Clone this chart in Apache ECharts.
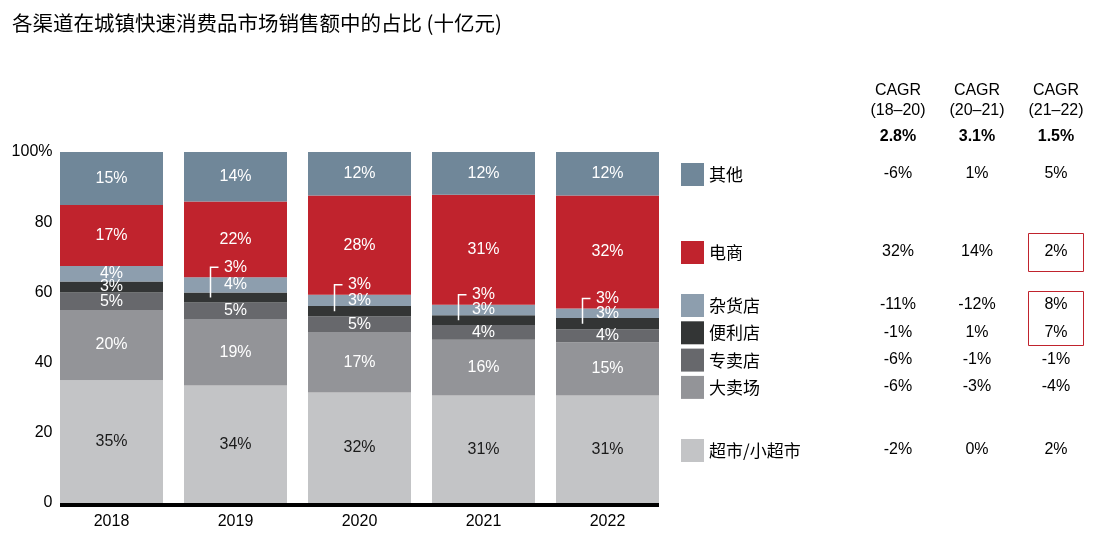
<!DOCTYPE html>
<html>
<head>
<meta charset="utf-8">
<script src="https://cdn.jsdelivr.net/npm/echarts@6/dist/echarts.min.js"></script>
<style>
html, body { margin: 0; padding: 0; background: #fff; }
#main { width: 1115px; height: 543px; }
</style>
</head>
<body>
<div id="main"></div>
<script>
var years = ["2018", "2019", "2020", "2021", "2022"];
var totals = ["1,309", "1,382", "1,383", "1,426", "1,447"];

// stacking order, bottom to top
var channels = ["超市/小超市", "大卖场", "专卖店", "便利店", "杂货店", "电商", "其他"];
var supermarket = [35.0, 33.5, 31.5, 30.6, 30.6];
var hypermarket = [20.0, 18.9, 17.2, 15.9, 15.2];
var specialty = [5.0, 4.7, 4.5, 4.2, 3.7];
var convenience = [3.1, 2.9, 2.9, 2.8, 3.2];
var grocery = [4.4, 4.3, 3.2, 3.0, 2.7];
var ecommerce = [17.4, 21.6, 28.3, 31.3, 32.2];
var others = [15.1, 14.1, 12.4, 12.2, 12.4];
var shares = [supermarket, hypermarket, specialty, convenience, grocery, ecommerce, others];
var colors = ["#c3c4c6", "#939498", "#67686c", "#333535", "#8d9eae", "#c0232d", "#708799"];

// right-hand table, top to bottom
var tableRows = ["其他", "电商", "杂货店", "便利店", "专卖店", "大卖场", "超市/小超市"];
var cagrHeads = ["(18–20)", "(20–21)", "(21–22)"];
var cagrTotal = ["2.8%", "3.1%", "1.5%"];
var cagr1820 = ["-6%", "32%", "-11%", "-1%", "-6%", "-6%", "-2%"];
var cagr2021 = ["1%", "14%", "-12%", "1%", "-1%", "-3%", "0%"];
var cagr2122 = ["5%", "2%", "8%", "7%", "-1%", "-4%", "2%"];

var latin = '"Liberation Sans", Arial, sans-serif';
var cjk = '"Noto Sans CJK SC", "Liberation Sans", sans-serif';
var barW = 103;

var chart = echarts.init(document.getElementById("main"));

var series = channels.map(function (name, k) {
    return {
        name: name,
        type: "bar",
        stack: "share",
        barWidth: barW,
        emphasis: { disabled: true },
        itemStyle: { color: colors[k] },
        label: {
            show: true,
            position: "inside",
            color: k === 0 ? "#1a1a1a" : "#fff",
            fontSize: 16,
            fontFamily: latin,
            formatter: function (p) { return Math.round(p.value) + "%"; }
        },
        data: shares[k].map(function (v, i) {
            // convenience-store labels after 2018 are drawn as callouts
            if (k === 3 && i > 0) return { value: v, label: { show: false } };
            return v;
        })
    };
});

// totals above the bars
series.push({
    type: "scatter",
    silent: true,
    symbolSize: 1,
    itemStyle: { opacity: 0 },
    label: {
        show: true,
        position: "top",
        distance: 8,
        color: "#000",
        fontSize: 16,
        fontFamily: latin,
        formatter: function (p) { return totals[p.dataIndex]; }
    },
    data: years.map(function () { return 100; })
});

function legendBlock(names, top) {
    return {
        data: names,
        left: 681,
        top: top,
        orient: "vertical",
        padding: 0,
        icon: "rect",
        itemWidth: 23,
        itemHeight: 23,
        itemGap: 4.3,
        selectedMode: false,
        textStyle: { fontSize: 17, color: "#000", fontFamily: cjk }
    };
}

chart.setOption({
    animation: false,
    title: {
        text: "各渠道在城镇快速消费品市场销售额中的占比 (十亿元)",
        left: 12,
        top: 13,
        padding: 0,
        textStyle: { fontSize: 20.5, fontWeight: "normal", color: "#000", fontFamily: cjk }
    },
    legend: [
        legendBlock(["其他"], 163),
        legendBlock(["电商"], 241),
        legendBlock(["杂货店", "便利店", "专卖店", "大卖场"], 294),
        legendBlock(["超市/小超市"], 439)
    ],
    grid: { left: 49.5, width: 620, top: 152, bottom: 40 },
    xAxis: {
        type: "category",
        data: years,
        axisLine: { show: false },
        axisTick: { show: false },
        axisLabel: { color: "#000", fontSize: 16, fontFamily: latin, margin: 11 }
    },
    yAxis: {
        type: "value",
        min: 0,
        max: 100,
        interval: 20,
        splitLine: { show: false },
        axisLine: { show: false },
        axisTick: { show: false },
        axisLabel: {
            color: "#000",
            fontSize: 16,
            fontFamily: latin,
            margin: -3,
            formatter: function (v) { return v === 100 ? "100%" : v; }
        }
    },
    series: series
});

function txt(text, x, y, opts) {
    opts = opts || {};
    return {
        type: "text",
        silent: true,
        z: 100,
        style: {
            text: text,
            x: x,
            y: y,
            align: opts.align || "center",
            verticalAlign: "middle",
            fill: opts.fill || "#000",
            fontSize: opts.size || 16,
            fontWeight: opts.weight || "normal",
            fontFamily: latin
        }
    };
}

function drawExtras() {
    var els = [];

    // baseline under the bars
    var p0 = chart.convertToPixel({ gridIndex: 0 }, [0, 0]);
    var p4 = chart.convertToPixel({ gridIndex: 0 }, [years.length - 1, 0]);
    els.push({
        type: "line",
        silent: true,
        z: 100,
        shape: { x1: p0[0] - barW / 2, y1: p0[1] + 2, x2: p4[0] + barW / 2, y2: p0[1] + 2 },
        style: { stroke: "#000", lineWidth: 4 }
    });

    // callout labels for the thin convenience-store segments
    for (var i = 1; i < years.length; i++) {
        var below = supermarket[i] + hypermarket[i] + specialty[i];
        var midConv = chart.convertToPixel({ gridIndex: 0 }, [i, below + convenience[i] / 2]);
        var topGroc = chart.convertToPixel({ gridIndex: 0 }, [i, below + convenience[i] + grocery[i]]);
        var cx = topGroc[0];
        var ly = topGroc[1] - 10;
        els.push(txt(Math.round(convenience[i]) + "%", cx, ly, { fill: "#fff" }));
        els.push({
            type: "polyline",
            silent: true,
            z: 100,
            shape: { points: [[cx - 17, ly], [cx - 25, ly], [cx - 25, midConv[1]]] },
            style: { stroke: "#fff", lineWidth: 1.5, fill: null }
        });
    }

    // CAGR table
    var colX = [898, 977, 1056];
    var rowY = [174, 252, 305, 333, 360, 387, 450];
    var cols = [cagr1820, cagr2021, cagr2122];
    colX.forEach(function (x, c) {
        els.push(txt("CAGR", x, 91));
        els.push(txt(cagrHeads[c], x, 111));
        els.push(txt(cagrTotal[c], x, 137, { weight: "bold" }));
        rowY.forEach(function (y, r) {
            els.push(txt(cols[c][r], x, y));
        });
    });

    // highlight boxes
    els.push({
        type: "rect", silent: true, z: 100,
        shape: { x: 1028.5, y: 233.5, width: 55, height: 38 },
        style: { fill: null, stroke: "#c0232d", lineWidth: 1 }
    });
    els.push({
        type: "rect", silent: true, z: 100,
        shape: { x: 1028.5, y: 291.5, width: 55, height: 54 },
        style: { fill: null, stroke: "#c0232d", lineWidth: 1 }
    });

    chart.setOption({ graphic: els });
}

drawExtras();
window.addEventListener("resize", function () {
    chart.resize();
    drawExtras();
});
</script>
</body>
</html>
